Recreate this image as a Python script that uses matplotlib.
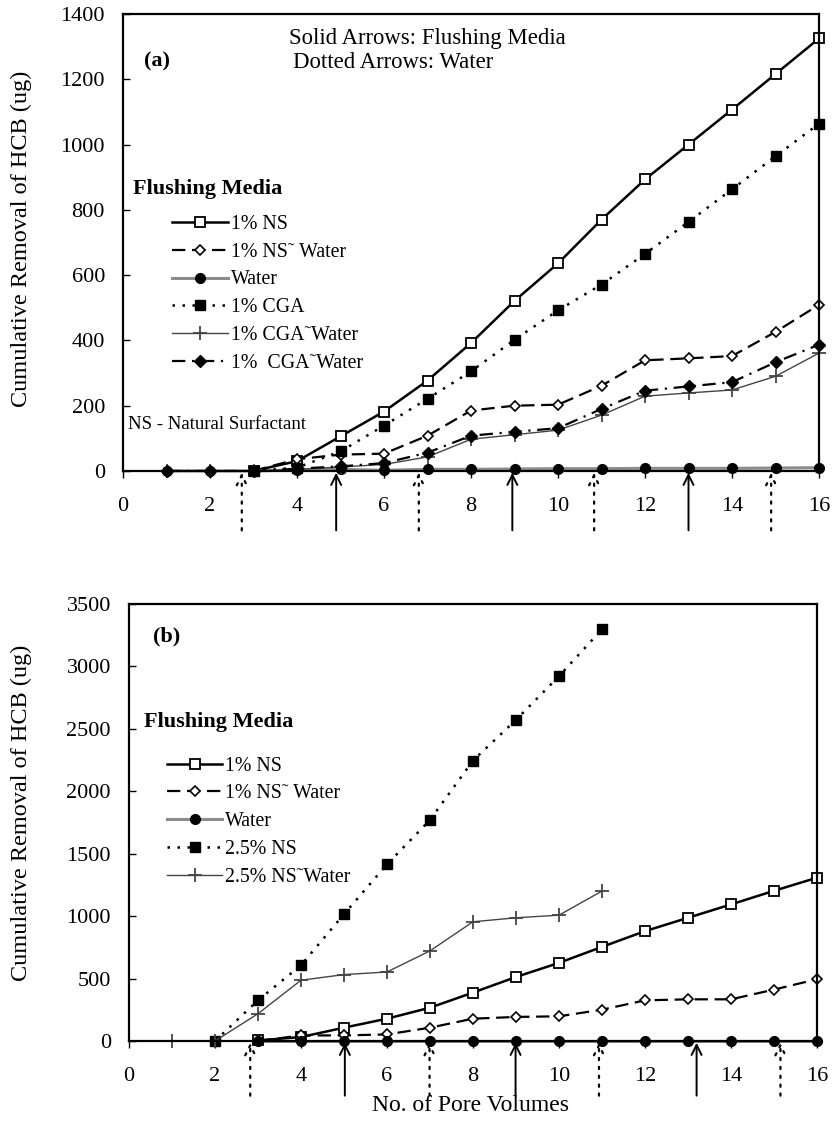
import numpy as np
import matplotlib.pyplot as plt
import matplotlib.transforms as mtransforms

plt.rcParams['font.family'] = ['Liberation Serif', 'DejaVu Serif']

# ---- panel (a) data ----
pv_a = [1, 2, 3, 4, 5, 6, 7, 8, 9, 10, 11, 12, 13, 14, 15, 16]
pv_a3 = pv_a[2:]
ns1_a = [0, 30, 106, 182, 277, 392, 521, 636, 770, 893, 1000, 1107, 1216, 1325]
ns1_water_a = [0, 36, 50, 53, 108, 185, 200, 203, 261, 339, 345, 352, 426, 509]
water_a = [0, 0, 0, 3, 5, 2, 5, 5, 6, 7, 7, 8, 8, 8, 9, 10]
cga1_a = [0, 10, 60, 139, 221, 305, 402, 492, 571, 665, 763, 863, 964, 1064]
cga1_water_plus = [0, 0, 0, 5, 12, 20, 43, 97, 111, 125, 171, 229, 239, 248, 290, 361]
cga1_water_dia = [0, 0, 0, 7, 14, 24, 56, 108, 120, 131, 190, 246, 259, 272, 333, 387]
arrows_a_solid = [4.9, 8.95, 13.0]
arrows_a_dotted = [2.73, 6.8, 10.83, 14.9]

# ---- panel (b) data ----
pv_b_ns = [3, 4, 5, 6, 7, 8, 9, 10, 11, 12, 13, 14, 15, 16]
ns1_b = [5, 32, 107, 179, 267, 388, 513, 626, 754, 880, 987, 1094, 1203, 1308]
ns1_water_b = [0, 45, 45, 53, 107, 179, 193, 198, 251, 326, 334, 334, 412, 495]
water_b = [0] * 14
pv_b_25 = [2, 3, 4, 5, 6, 7, 8, 9, 10, 11]
ns25_b = [0, 326, 607, 1016, 1415, 1770, 2246, 2572, 2922, 3297]
pv_b_25w = [1, 2, 3, 4, 5, 6, 7, 8, 9, 10, 11]
ns25_water_b = [0, 0, 219, 487, 532, 553, 722, 955, 987, 1008, 1201]
arrows_b_solid = [5.02, 8.99, 13.2]
arrows_b_dotted = [2.82, 6.99, 10.93, 15.15]

fig = plt.figure(figsize=(8.37, 11.37), dpi=100)
ax1 = fig.add_axes([0.147, 0.5858, 0.8315, 0.4019])
ax2 = fig.add_axes([0.1541, 0.0844, 0.822, 0.3844])

gray = '#8c8c8c'
common = dict(color='black', clip_on=False)


def style_axes(ax, ymax, ystep):
    ax.set_xlim(0, 16)
    ax.set_ylim(0, ymax)
    ax.set_xticks(np.arange(0, 17, 2))
    ax.set_yticks(np.arange(0, ymax + 1, ystep))
    ax.tick_params(axis='x', direction='out', length=5, width=1, labelsize=16, pad=14)
    ax.tick_params(axis='y', direction='in', length=5, width=1, labelsize=16, pad=13)
    for s in ax.spines.values():
        s.set_linewidth(1.6)


def draw_arrows(ax, solid, dotted, depth):
    trans = mtransforms.blended_transform_factory(ax.transData, ax.transAxes)
    for x in solid:
        ax.annotate('', xy=(x, -0.004), xytext=(x, -depth), xycoords=trans, textcoords=trans,
                    arrowprops=dict(arrowstyle='->', lw=1.4, color='black',
                                    shrinkA=0, shrinkB=0, mutation_scale=18))
    for x in dotted:
        ax.annotate('', xy=(x, -0.004), xytext=(x, -depth), xycoords=trans, textcoords=trans,
                    arrowprops=dict(arrowstyle='->', lw=1.6, color='black', linestyle=(0, (1, 3)),
                                    shrinkA=0, shrinkB=0, mutation_scale=18))


# ---------- panel (a) ----------
ax = ax1
l1, = ax.plot(pv_a3, ns1_a, '-s', lw=1.8, ms=7, mfc='white', mec='black', mew=1.3, **common)
l2, = ax.plot(pv_a3, ns1_water_a, ls=(0, (6, 3)), marker='D', lw=1.6, ms=5.5, mfc='white', mec='black', mew=1.2, **common)
l3, = ax.plot(pv_a, water_a, '-o', lw=2.2, ms=7, color=gray, mfc='black', mec='black', clip_on=False)
l4, = ax.plot(pv_a3, cga1_a, ls=(0, (1, 3)), marker='s', lw=1.8, ms=6.5, **common)
l5, = ax.plot(pv_a, cga1_water_plus, '-+', lw=1.0, ms=10, mew=1.3, color='#444444', clip_on=False)
l6, = ax.plot(pv_a, cga1_water_dia, ls=(0, (6, 3, 1, 3)), marker='D', lw=1.6, ms=6, **common)
style_axes(ax, 1400, 200)
draw_arrows(ax, arrows_a_solid, arrows_a_dotted, 0.13)

ax.text(0.03, 0.895, '(a)', transform=ax.transAxes, fontsize=16, fontweight='bold', va='center')
ax.text(7.0, 1326, 'Solid Arrows: Flushing Media', fontsize=16.4, ha='center', va='center')
ax.text(3.9, 1250, 'Dotted Arrows: Water', fontsize=16.4, ha='left', va='center')
ax.text(0.24, 863, 'Flushing Media', fontsize=16, fontweight='bold', ha='left', va='center')
ax.text(0.11, 142, 'NS - Natural Surfactant', fontsize=13.5, ha='left', va='center')
ax.legend([l1, l2, l3, l4, l5, l6],
          ['1% NS', '1% NS\u02dc Water', 'Water', '1% CGA', '1% CGA\u02dcWater', '1%  CGA\u02dcWater'],
          loc='upper left', bbox_to_anchor=(0.071, 0.561), frameon=False, fontsize=14.3,
          handlelength=2.8, handletextpad=0.15, labelspacing=0.45, borderpad=0, borderaxespad=0)

# ---------- panel (b) ----------
ax = ax2
m1, = ax.plot(pv_b_ns, ns1_b, '-s', lw=1.8, ms=7, mfc='white', mec='black', mew=1.3, **common)
m2, = ax.plot(pv_b_ns, ns1_water_b, ls=(0, (6, 3)), marker='D', lw=1.6, ms=5.5, mfc='white', mec='black', mew=1.2, **common)
m3, = ax.plot(pv_b_ns, water_b, '-o', lw=2.2, ms=7, color=gray, mfc='black', mec='black', clip_on=False)
m4, = ax.plot(pv_b_25, ns25_b, ls=(0, (1, 3)), marker='s', lw=1.8, ms=6.5, **common)
m5, = ax.plot(pv_b_25w, ns25_water_b, '-+', lw=1.0, ms=10, mew=1.3, color='#444444', clip_on=False)
style_axes(ax, 3500, 500)
draw_arrows(ax, arrows_b_solid, arrows_b_dotted, 0.125)

ax.text(0.035, 0.926, '(b)', transform=ax.transAxes, fontsize=16, fontweight='bold', va='center')
ax.text(0.36, 2556, 'Flushing Media', fontsize=16, fontweight='bold', ha='left', va='center')
ax.legend([m1, m2, m3, m4, m5],
          ['1% NS', '1% NS\u02dc Water', 'Water', '2.5% NS', '2.5% NS\u02dcWater'],
          loc='upper left', bbox_to_anchor=(0.055, 0.651), frameon=False, fontsize=14.3,
          handlelength=2.8, handletextpad=0.15, labelspacing=0.45, borderpad=0, borderaxespad=0)

fig.text(0.025, 0.79, 'Cumulative Removal of HCB (ug)', rotation=90, fontsize=17.5, ha='center', va='center')
fig.text(0.025, 0.285, 'Cumulative Removal of HCB (ug)', rotation=90, fontsize=17.5, ha='center', va='center')
fig.text(0.562, 0.028, 'No. of Pore Volumes', fontsize=17, ha='center', va='center')

fig.savefig('out.png', dpi=100)
